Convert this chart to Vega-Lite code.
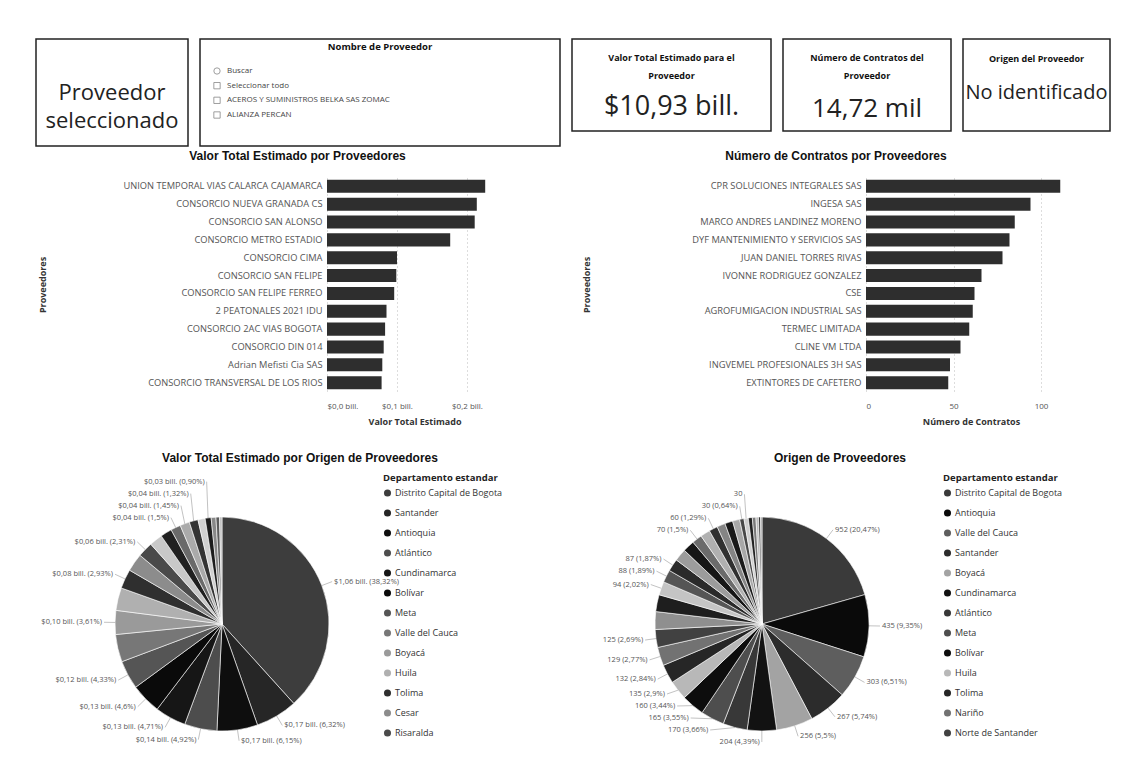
{
  "$schema": "https://vega.github.io/schema/vega-lite/v6.json",
  "background": "white",
  "padding": {"left": 16, "top": 38, "right": 5, "bottom": 5},
  "autosize": {"type": "pad"},
  "config": {
    "font": "Open Sans",
    "view": {"stroke": null},
    "title": {"font": "Liberation Sans", "color": "#111"}
  },
  "spacing": 0,
  "bounds": "full",
  "resolve": {"scale": {"x": "independent", "y": "independent", "color": "independent", "theta": "independent", "shape": "independent"}, "legend": {"color": "independent"}},
  "vconcat": [
    {
      "hconcat": [
        {"width": 8, "height": 10, "data": {"values": []}, "mark": {"type": "point", "opacity": 0}, "encoding": {}},
        {
          "width": 152, "height": 107,
          "view": {"stroke": "#222", "strokeWidth": 1.5},
          "data": {"values": [{"t": ["Proveedor", "seleccionado"]}]},
          "mark": {"type": "text", "fontSize": 22, "lineHeight": 28, "color": "#222", "baseline": "middle"},
          "encoding": {"text": {"field": "t", "type": "nominal"}}
        },
        {
          "width": 360, "height": 107,
          "view": {"stroke": "#222", "strokeWidth": 1.5},
          "title": {"text": "Nombre de Proveedor", "font": "Open Sans", "fontSize": 9.5, "fontWeight": "bold", "offset": -12, "frame": "group"},
          "data": {"values": [
            {"item": "Buscar", "kind": "buscar"},
            {"item": "Seleccionar todo", "kind": "casilla"},
            {"item": "ACEROS Y SUMINISTROS BELKA SAS ZOMAC", "kind": "casilla"},
            {"item": "ALIANZA PERCAN", "kind": "casilla"}
          ]},
          "encoding": {"y": {"field": "item", "type": "ordinal", "sort": null, "axis": null, "scale": {"type": "point", "range": [32, 76], "padding": 0}}},
          "layer": [
            {"mark": {"type": "point", "x": 17, "size": 40, "filled": false, "stroke": "#555", "strokeWidth": 0.8},
             "encoding": {"shape": {"field": "kind", "type": "nominal", "scale": {"domain": ["buscar", "casilla"], "range": ["circle", "square"]}, "legend": null}}},
            {"mark": {"type": "text", "x": 27, "align": "left", "fontSize": 8, "color": "#444"},
             "encoding": {"text": {"field": "item", "type": "nominal"}}}
          ]
        },
        {
          "width": 199, "height": 92,
          "view": {"stroke": "#222", "strokeWidth": 1.5},
          "title": {"text": ["Valor Total Estimado para el", "Proveedor"], "font": "Open Sans", "fontSize": 9, "fontWeight": "bold", "lineHeight": 18, "offset": -42, "frame": "group"},
          "data": {"values": [{"v": "$10,93 bill."}]},
          "mark": {"type": "text", "fontSize": 27, "dy": 22, "color": "#222"},
          "encoding": {"text": {"field": "v", "type": "nominal"}}
        },
        {
          "width": 168, "height": 92,
          "view": {"stroke": "#222", "strokeWidth": 1.5},
          "title": {"text": ["Número de Contratos del", "Proveedor"], "font": "Open Sans", "fontSize": 9, "fontWeight": "bold", "lineHeight": 18, "offset": -42, "frame": "group"},
          "data": {"values": [{"v": "14,72 mil"}]},
          "mark": {"type": "text", "fontSize": 26, "dy": 24, "color": "#222"},
          "encoding": {"text": {"field": "v", "type": "nominal"}}
        },
        {
          "width": 147, "height": 92,
          "view": {"stroke": "#222", "strokeWidth": 1.5},
          "title": {"text": "Origen del Proveedor", "font": "Open Sans", "fontSize": 9, "fontWeight": "bold", "offset": -25, "frame": "group"},
          "data": {"values": [{"v": "No identificado"}]},
          "mark": {"type": "text", "fontSize": 20, "dy": 8, "color": "#222"},
          "encoding": {"text": {"field": "v", "type": "nominal"}}
        }
      ],
      "spacing": 12,
      "bounds": "flush"
    },
    {"width": 10, "height": 3, "data": {"values": []}, "mark": {"type": "point", "opacity": 0}, "encoding": {}},
    {
      "hconcat": [
        {"width": 311, "height": 10, "data": {"values": []}, "mark": {"type": "point", "opacity": 0}, "encoding": {}},
        {
          "width": 175, "height": 213,
          "title": {"text": "Valor Total Estimado por Proveedores", "fontSize": 12, "fontWeight": "bold", "frame": "group", "dx": -117, "offset": 15},
          "data": {"values": [
            {"proveedor": "UNION TEMPORAL VIAS CALARCA CAJAMARCA", "valor": 0.226},
            {"proveedor": "CONSORCIO NUEVA GRANADA CS", "valor": 0.214},
            {"proveedor": "CONSORCIO SAN ALONSO", "valor": 0.211},
            {"proveedor": "CONSORCIO METRO ESTADIO", "valor": 0.176},
            {"proveedor": "CONSORCIO CIMA", "valor": 0.1},
            {"proveedor": "CONSORCIO SAN FELIPE", "valor": 0.099},
            {"proveedor": "CONSORCIO SAN FELIPE FERREO", "valor": 0.096},
            {"proveedor": "2 PEATONALES 2021 IDU", "valor": 0.085},
            {"proveedor": "CONSORCIO 2AC VIAS BOGOTA", "valor": 0.083},
            {"proveedor": "CONSORCIO DIN 014", "valor": 0.081},
            {"proveedor": "Adrian Mefisti Cia SAS", "valor": 0.079},
            {"proveedor": "CONSORCIO TRANSVERSAL DE LOS RIOS", "valor": 0.078}
          ]},
          "mark": {"type": "bar", "color": "#2e2e2e"},
          "encoding": {
            "y": {"field": "proveedor", "type": "nominal", "sort": null, "title": "Proveedores",
                  "scale": {"paddingInner": 0.27, "paddingOuter": 0.1},
                  "axis": {"labelFontSize": 9.3, "labelColor": "#555", "ticks": false, "domain": false, "labelPadding": 5, "labelLimit": 300,
                           "titleFontSize": 9, "titleFontWeight": "bold", "titleColor": "#333", "titlePadding": 80}},
            "x": {"field": "valor", "type": "quantitative", "title": "Valor Total Estimado", "scale": {"domain": [0, 0.25]},
                  "axis": {"values": [0, 0.1, 0.2], "labelExpr": "'$' + replace(format(datum.value, '.1f'), '.', ',') + ' bill.'",
                           "ticks": false, "domain": false, "gridDash": [1, 3], "gridColor": "#bbb",
                           "labelFontSize": 8, "labelColor": "#555", "labelPadding": 11,
                           "titleFontSize": 9, "titleFontWeight": "bold", "titleColor": "#333", "titlePadding": 7}}
          }
        },
        {"width": 364, "height": 10, "data": {"values": []}, "mark": {"type": "point", "opacity": 0}, "encoding": {}},
        {
          "width": 210, "height": 213,
          "title": {"text": "Número de Contratos por Proveedores", "fontSize": 12, "fontWeight": "bold", "frame": "group", "dx": -135, "offset": 15},
          "data": {"values": [
            {"proveedor": "CPR SOLUCIONES INTEGRALES SAS", "contratos": 111},
            {"proveedor": "INGESA SAS", "contratos": 94},
            {"proveedor": "MARCO ANDRES LANDINEZ MORENO", "contratos": 85},
            {"proveedor": "DYF MANTENIMIENTO Y SERVICIOS SAS", "contratos": 82},
            {"proveedor": "JUAN DANIEL TORRES RIVAS", "contratos": 78},
            {"proveedor": "IVONNE RODRIGUEZ GONZALEZ", "contratos": 66},
            {"proveedor": "CSE", "contratos": 62},
            {"proveedor": "AGROFUMIGACION INDUSTRIAL SAS", "contratos": 61},
            {"proveedor": "TERMEC LIMITADA", "contratos": 59},
            {"proveedor": "CLINE VM LTDA", "contratos": 54},
            {"proveedor": "INGVEMEL PROFESIONALES 3H SAS", "contratos": 48},
            {"proveedor": "EXTINTORES DE CAFETERO", "contratos": 47}
          ]},
          "mark": {"type": "bar", "color": "#2e2e2e"},
          "encoding": {
            "y": {"field": "proveedor", "type": "nominal", "sort": null, "title": "Proveedores",
                  "scale": {"paddingInner": 0.27, "paddingOuter": 0.1},
                  "axis": {"labelFontSize": 9.3, "labelColor": "#555", "ticks": false, "domain": false, "labelPadding": 5, "labelLimit": 300,
                           "titleFontSize": 9, "titleFontWeight": "bold", "titleColor": "#333", "titlePadding": 100}},
            "x": {"field": "contratos", "type": "quantitative", "title": "Número de Contratos", "scale": {"domain": [0, 120]},
                  "axis": {"values": [0, 50, 100], "ticks": false, "domain": false, "gridDash": [1, 3], "gridColor": "#bbb",
                           "labelFontSize": 8, "labelColor": "#555", "labelPadding": 11,
                           "titleFontSize": 9, "titleFontWeight": "bold", "titleColor": "#333", "titlePadding": 7}}
          }
        }
      ],
      "spacing": 0,
      "bounds": "flush",
      "resolve": {"scale": {"x": "independent", "y": "independent"}}
    },
    {"width": 10, "height": 26, "data": {"values": []}, "mark": {"type": "point", "opacity": 0}, "encoding": {}},
    {
      "hconcat": [
        {"width": 96, "height": 10, "data": {"values": []}, "mark": {"type": "point", "opacity": 0}, "encoding": {}},
        {
          "width": 220, "height": 220,
          "title": {"text": "Valor Total Estimado por Origen de Proveedores", "fontSize": 12, "fontWeight": "bold", "frame": "group", "dx": 78, "offset": 8},
          "data": {"values": [
            {"depto": "Distrito Capital de Bogota", "valor": 1.061, "etiqueta": "$1,06 bill. (38,32%)"},
            {"depto": "Santander", "valor": 0.175, "etiqueta": "$0,17 bill. (6,32%)"},
            {"depto": "Antioquia", "valor": 0.17, "etiqueta": "$0,17 bill. (6,15%)"},
            {"depto": "Atlántico", "valor": 0.136, "etiqueta": "$0,14 bill. (4,92%)"},
            {"depto": "Cundinamarca", "valor": 0.13, "etiqueta": "$0,13 bill. (4,71%)"},
            {"depto": "Bolívar", "valor": 0.127, "etiqueta": "$0,13 bill. (4,6%)"},
            {"depto": "Meta", "valor": 0.12, "etiqueta": "$0,12 bill. (4,33%)"},
            {"depto": "Valle del Cauca", "valor": 0.115, "etiqueta": ""},
            {"depto": "Boyacá", "valor": 0.1, "etiqueta": "$0,10 bill. (3,61%)"},
            {"depto": "Huila", "valor": 0.095, "etiqueta": ""},
            {"depto": "Tolima", "valor": 0.081, "etiqueta": "$0,08 bill. (2,93%)"},
            {"depto": "Cesar", "valor": 0.075, "etiqueta": ""},
            {"depto": "Risaralda", "valor": 0.064, "etiqueta": "$0,06 bill. (2,31%)"},
            {"depto": "Caldas", "valor": 0.055, "etiqueta": ""},
            {"depto": "Nariño", "valor": 0.048, "etiqueta": ""},
            {"depto": "Norte de Santander", "valor": 0.0415, "etiqueta": "$0,04 bill. (1,5%)"},
            {"depto": "Magdalena", "valor": 0.04, "etiqueta": "$0,04 bill. (1,45%)"},
            {"depto": "Córdoba", "valor": 0.0366, "etiqueta": "$0,04 bill. (1,32%)"},
            {"depto": "Quindío", "valor": 0.03, "etiqueta": ""},
            {"depto": "Sucre", "valor": 0.025, "etiqueta": "$0,03 bill. (0,90%)"},
            {"depto": "Casanare", "valor": 0.02, "etiqueta": ""},
            {"depto": "Cauca", "valor": 0.015, "etiqueta": ""},
            {"depto": "La Guajira", "valor": 0.01, "etiqueta": ""}
          ]},
          "transform": [
            {"window": [{"op": "sum", "field": "valor", "as": "acum"}], "sort": [{"field": "valor", "order": "descending"}], "ignorePeers": true},
            {"joinaggregate": [{"op": "sum", "field": "valor", "as": "total"}]},
            {"calculate": "(datum.acum - datum.valor / 2) / datum.total", "as": "medio"}
          ],
          "layer": [
            {
              "mark": {"type": "arc", "outerRadius": 107, "stroke": "#fff", "strokeWidth": 0.6},
              "encoding": {
                "theta": {"field": "valor", "type": "quantitative", "stack": true},
                "order": {"field": "valor", "sort": "descending"},
                "color": {"field": "depto", "type": "nominal",
                  "scale": {
                    "domain": ["Distrito Capital de Bogota", "Santander", "Antioquia", "Atlántico", "Cundinamarca", "Bolívar", "Meta", "Valle del Cauca", "Boyacá", "Huila", "Tolima", "Cesar", "Risaralda", "Caldas", "Nariño", "Norte de Santander", "Magdalena", "Córdoba", "Quindío", "Sucre", "Casanare", "Cauca", "La Guajira"],
                    "range": ["#3d3d3d", "#262626", "#0e0e0e", "#4d4d4d", "#161616", "#0a0a0a", "#555555", "#777777", "#9a9a9a", "#b0b0b0", "#2f2f2f", "#8c8c8c", "#4a4a4a", "#c8c8c8", "#202020", "#6a6a6a", "#aaaaaa", "#333333", "#d0d0d0", "#1c1c1c", "#888888", "#5c5c5c", "#bdbdbd"]
                  },
                  "legend": {
                    "title": "Departamento estandar", "orient": "none", "legendX": 271, "legendY": -41,
                    "values": ["Distrito Capital de Bogota", "Santander", "Antioquia", "Atlántico", "Cundinamarca", "Bolívar", "Meta", "Valle del Cauca", "Boyacá", "Huila", "Tolima", "Cesar", "Risaralda"],
                    "symbolType": "circle", "symbolSize": 50, "symbolStrokeWidth": 0, "labelFontSize": 9, "labelColor": "#333", "labelOffset": 3,
                    "titleFontSize": 9.5, "titleFontWeight": "bold", "titleColor": "#222", "titlePadding": 6, "rowPadding": 10, "padding": 0
                  }
                }
              }
            },
            {
              "transform": [
                {"filter": "datum.etiqueta != ''"},
                {"calculate": "2 * PI * datum.medio", "as": "ang"},
                {"calculate": "datum.medio < 0.5 ? 1 : -1", "as": "lado"},
                {"calculate": "cos(datum.ang) * 118", "as": "ny"},
                {"calculate": "sin(datum.ang) * 118", "as": "nx"},
                {"window": [{"op": "row_number", "as": "idx"}], "groupby": ["lado"], "sort": [{"field": "ny", "order": "ascending"}]},
                {"calculate": "datum.ny - datum.idx * 12", "as": "t"},
                {"window": [{"op": "max", "field": "t", "as": "tmax"}], "groupby": ["lado"], "sort": [{"field": "ny", "order": "ascending"}], "frame": [null, 0]},
                {"calculate": "datum.tmax + datum.idx * 12", "as": "ly"},
                {"calculate": "datum.lado * max(abs(datum.nx), sqrt(max(0, 118 * 118 - datum.ly * datum.ly)))", "as": "lx"},
                {"calculate": "sin(datum.ang) * 107", "as": "ex"},
                {"calculate": "cos(datum.ang) * 107", "as": "ey"}
              ],
              "layer": [
                {
                  "mark": {"type": "rule", "color": "#999", "strokeWidth": 0.6},
                  "encoding": {
                    "x": {"field": "ex", "type": "quantitative", "scale": {"domain": [-110, 110], "nice": false, "zero": false}, "axis": null},
                    "y": {"field": "ey", "type": "quantitative", "scale": {"domain": [-110, 110], "nice": false, "zero": false}, "axis": null},
                    "x2": {"field": "lx"},
                    "y2": {"field": "ly"}
                  }
                },
                {
                  "transform": [{"filter": "datum.lado > 0"}],
                  "mark": {"type": "text", "align": "left", "baseline": "middle", "dx": 2, "fontSize": 7.5, "color": "#555"},
                  "encoding": {
                    "x": {"field": "lx", "type": "quantitative", "scale": {"domain": [-110, 110], "nice": false, "zero": false}, "axis": null},
                    "y": {"field": "ly", "type": "quantitative", "scale": {"domain": [-110, 110], "nice": false, "zero": false}, "axis": null},
                    "text": {"field": "etiqueta", "type": "nominal"}
                  }
                },
                {
                  "transform": [{"filter": "datum.lado < 0"}],
                  "mark": {"type": "text", "align": "right", "baseline": "middle", "dx": -2, "fontSize": 7.5, "color": "#555"},
                  "encoding": {
                    "x": {"field": "lx", "type": "quantitative", "scale": {"domain": [-110, 110], "nice": false, "zero": false}, "axis": null},
                    "y": {"field": "ly", "type": "quantitative", "scale": {"domain": [-110, 110], "nice": false, "zero": false}, "axis": null},
                    "text": {"field": "etiqueta", "type": "nominal"}
                  }
                }
              ]
            }
          ]
        },
        {"width": 320, "height": 10, "data": {"values": []}, "mark": {"type": "point", "opacity": 0}, "encoding": {}},
        {
          "width": 220, "height": 220,
          "title": {"text": "Origen de Proveedores", "fontSize": 12, "fontWeight": "bold", "frame": "group", "dx": 78, "offset": 8},
          "data": {"values": [
            {"depto": "Distrito Capital de Bogota", "contratos": 952, "etiqueta": "952 (20,47%)"},
            {"depto": "Antioquia", "contratos": 435, "etiqueta": "435 (9,35%)"},
            {"depto": "Valle del Cauca", "contratos": 303, "etiqueta": "303 (6,51%)"},
            {"depto": "Santander", "contratos": 267, "etiqueta": "267 (5,74%)"},
            {"depto": "Boyacá", "contratos": 256, "etiqueta": "256 (5,5%)"},
            {"depto": "Cundinamarca", "contratos": 204, "etiqueta": "204 (4,39%)"},
            {"depto": "Atlántico", "contratos": 170, "etiqueta": "170 (3,66%)"},
            {"depto": "Meta", "contratos": 165, "etiqueta": "165 (3,55%)"},
            {"depto": "Bolívar", "contratos": 160, "etiqueta": "160 (3,44%)"},
            {"depto": "Huila", "contratos": 135, "etiqueta": "135 (2,9%)"},
            {"depto": "Tolima", "contratos": 132, "etiqueta": "132 (2,84%)"},
            {"depto": "Nariño", "contratos": 129, "etiqueta": "129 (2,77%)"},
            {"depto": "Norte de Santander", "contratos": 125, "etiqueta": "125 (2,69%)"},
            {"depto": "Cesar", "contratos": 124, "etiqueta": ""},
            {"depto": "Risaralda", "contratos": 118, "etiqueta": ""},
            {"depto": "Caldas", "contratos": 94, "etiqueta": "94 (2,02%)"},
            {"depto": "Magdalena", "contratos": 88, "etiqueta": "88 (1,89%)"},
            {"depto": "Córdoba", "contratos": 87, "etiqueta": "87 (1,87%)"},
            {"depto": "Quindío", "contratos": 86, "etiqueta": ""},
            {"depto": "Sucre", "contratos": 82, "etiqueta": ""},
            {"depto": "Cauca", "contratos": 70, "etiqueta": "70 (1,5%)"},
            {"depto": "Casanare", "contratos": 68, "etiqueta": ""},
            {"depto": "Caquetá", "contratos": 60, "etiqueta": "60 (1,29%)"},
            {"depto": "La Guajira", "contratos": 58, "etiqueta": ""},
            {"depto": "Putumayo", "contratos": 55, "etiqueta": ""},
            {"depto": "Arauca", "contratos": 50, "etiqueta": ""},
            {"depto": "Chocó", "contratos": 30, "etiqueta": "30 (0,64%)"},
            {"depto": "Guaviare", "contratos": 30, "etiqueta": "30"},
            {"depto": "San Andrés", "contratos": 28, "etiqueta": ""},
            {"depto": "Amazonas", "contratos": 25, "etiqueta": ""},
            {"depto": "Vichada", "contratos": 18, "etiqueta": ""},
            {"depto": "Guainía", "contratos": 14, "etiqueta": ""},
            {"depto": "Vaupés", "contratos": 10, "etiqueta": ""}
          ]},
          "transform": [
            {"window": [{"op": "sum", "field": "contratos", "as": "acum"}], "sort": [{"field": "contratos", "order": "descending"}], "ignorePeers": true},
            {"joinaggregate": [{"op": "sum", "field": "contratos", "as": "total"}]},
            {"calculate": "(datum.acum - datum.contratos / 2) / datum.total", "as": "medio"}
          ],
          "layer": [
            {
              "mark": {"type": "arc", "outerRadius": 107, "stroke": "#fff", "strokeWidth": 0.6},
              "encoding": {
                "theta": {"field": "contratos", "type": "quantitative", "stack": true},
                "order": {"field": "contratos", "sort": "descending"},
                "color": {"field": "depto", "type": "nominal",
                  "scale": {
                    "domain": ["Distrito Capital de Bogota", "Antioquia", "Valle del Cauca", "Santander", "Boyacá", "Cundinamarca", "Atlántico", "Meta", "Bolívar", "Huila", "Tolima", "Nariño", "Norte de Santander", "Cesar", "Risaralda", "Caldas", "Magdalena", "Córdoba", "Quindío", "Sucre", "Cauca", "Casanare", "Caquetá", "La Guajira", "Putumayo", "Arauca", "Chocó", "Guaviare", "San Andrés", "Amazonas", "Vichada", "Guainía", "Vaupés"],
                    "range": ["#3a3a3a", "#0a0a0a", "#5e5e5e", "#2c2c2c", "#a3a3a3", "#121212", "#383838", "#4e4e4e", "#0d0d0d", "#b8b8b8", "#262626", "#727272", "#414141", "#8f8f8f", "#1e1e1e", "#c4c4c4", "#555555", "#2a2a2a", "#9c9c9c", "#161616", "#6b6b6b", "#b0b0b0", "#303030", "#858585", "#1a1a1a", "#a8a8a8", "#484848", "#cfcfcf", "#222222", "#7a7a7a", "#bcbcbc", "#333333", "#969696"]
                  },
                  "legend": {
                    "title": "Departamento estandar", "orient": "none", "legendX": 291, "legendY": -41,
                    "values": ["Distrito Capital de Bogota", "Antioquia", "Valle del Cauca", "Santander", "Boyacá", "Cundinamarca", "Atlántico", "Meta", "Bolívar", "Huila", "Tolima", "Nariño", "Norte de Santander"],
                    "symbolType": "circle", "symbolSize": 50, "symbolStrokeWidth": 0, "labelFontSize": 9, "labelColor": "#333", "labelOffset": 3,
                    "titleFontSize": 9.5, "titleFontWeight": "bold", "titleColor": "#222", "titlePadding": 6, "rowPadding": 10, "padding": 0
                  }
                }
              }
            },
            {
              "transform": [
                {"filter": "datum.etiqueta != ''"},
                {"calculate": "2 * PI * datum.medio", "as": "ang"},
                {"calculate": "datum.medio < 0.5 ? 1 : -1", "as": "lado"},
                {"calculate": "cos(datum.ang) * 118", "as": "ny"},
                {"calculate": "sin(datum.ang) * 118", "as": "nx"},
                {"window": [{"op": "row_number", "as": "idx"}], "groupby": ["lado"], "sort": [{"field": "ny", "order": "ascending"}]},
                {"calculate": "datum.ny - datum.idx * 12", "as": "t"},
                {"window": [{"op": "max", "field": "t", "as": "tmax"}], "groupby": ["lado"], "sort": [{"field": "ny", "order": "ascending"}], "frame": [null, 0]},
                {"calculate": "datum.tmax + datum.idx * 12", "as": "ly"},
                {"calculate": "datum.lado * max(abs(datum.nx), sqrt(max(0, 118 * 118 - datum.ly * datum.ly)))", "as": "lx"},
                {"calculate": "sin(datum.ang) * 107", "as": "ex"},
                {"calculate": "cos(datum.ang) * 107", "as": "ey"}
              ],
              "layer": [
                {
                  "mark": {"type": "rule", "color": "#999", "strokeWidth": 0.6},
                  "encoding": {
                    "x": {"field": "ex", "type": "quantitative", "scale": {"domain": [-110, 110], "nice": false, "zero": false}, "axis": null},
                    "y": {"field": "ey", "type": "quantitative", "scale": {"domain": [-110, 110], "nice": false, "zero": false}, "axis": null},
                    "x2": {"field": "lx"},
                    "y2": {"field": "ly"}
                  }
                },
                {
                  "transform": [{"filter": "datum.lado > 0"}],
                  "mark": {"type": "text", "align": "left", "baseline": "middle", "dx": 2, "fontSize": 7.5, "color": "#555"},
                  "encoding": {
                    "x": {"field": "lx", "type": "quantitative", "scale": {"domain": [-110, 110], "nice": false, "zero": false}, "axis": null},
                    "y": {"field": "ly", "type": "quantitative", "scale": {"domain": [-110, 110], "nice": false, "zero": false}, "axis": null},
                    "text": {"field": "etiqueta", "type": "nominal"}
                  }
                },
                {
                  "transform": [{"filter": "datum.lado < 0"}],
                  "mark": {"type": "text", "align": "right", "baseline": "middle", "dx": -2, "fontSize": 7.5, "color": "#555"},
                  "encoding": {
                    "x": {"field": "lx", "type": "quantitative", "scale": {"domain": [-110, 110], "nice": false, "zero": false}, "axis": null},
                    "y": {"field": "ly", "type": "quantitative", "scale": {"domain": [-110, 110], "nice": false, "zero": false}, "axis": null},
                    "text": {"field": "etiqueta", "type": "nominal"}
                  }
                }
              ]
            }
          ]
        }
      ],
      "spacing": 0,
      "bounds": "flush",
      "resolve": {"scale": {"color": "independent", "theta": "independent"}, "legend": {"color": "independent"}}
    }
  ]
}
